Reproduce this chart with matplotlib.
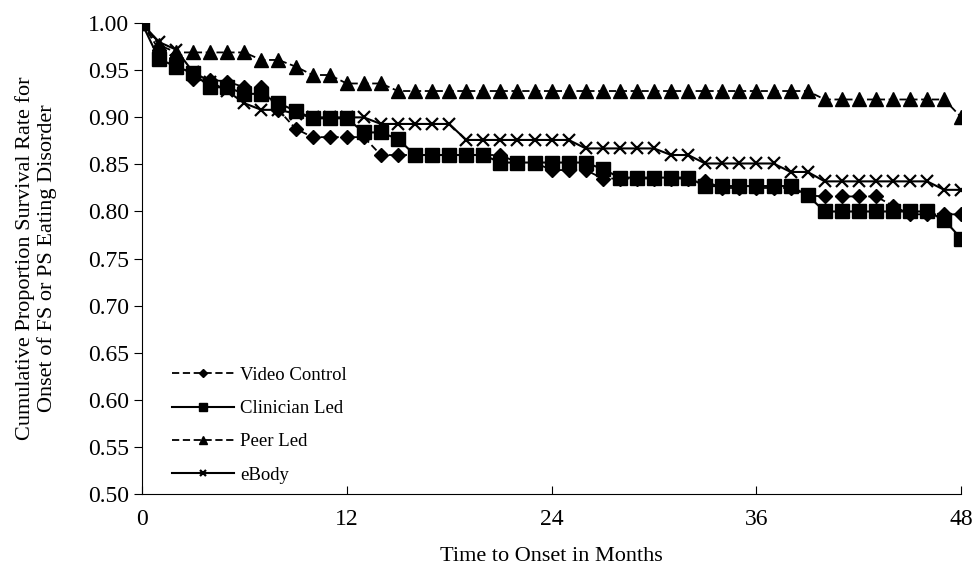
import matplotlib
matplotlib.use('Agg')
import matplotlib.pyplot as plt

plt.rcParams['font.family'] = ['Liberation Serif', 'DejaVu Serif']

months = list(range(0, 49))

video = [1.000, 0.972, 0.963, 0.941, 0.940, 0.938, 0.932, 0.932, 0.908, 0.888,
         0.879, 0.879, 0.879, 0.879, 0.860, 0.860, 0.860, 0.860, 0.860, 0.860,
         0.860, 0.860, 0.852, 0.852, 0.844, 0.844, 0.844, 0.835, 0.835, 0.835,
         0.835, 0.835, 0.835, 0.832, 0.825, 0.825, 0.825, 0.825, 0.825, 0.817,
         0.816, 0.816, 0.816, 0.816, 0.806, 0.797, 0.797, 0.797, 0.797]

clinician = [1.000, 0.962, 0.954, 0.947, 0.932, 0.932, 0.925, 0.925, 0.915, 0.907,
             0.899, 0.899, 0.899, 0.884, 0.884, 0.877, 0.860, 0.860, 0.860, 0.860,
             0.860, 0.852, 0.852, 0.852, 0.852, 0.852, 0.852, 0.845, 0.836, 0.836,
             0.836, 0.836, 0.836, 0.827, 0.827, 0.827, 0.827, 0.827, 0.827, 0.817,
             0.800, 0.800, 0.800, 0.800, 0.800, 0.800, 0.800, 0.791, 0.771]

peer = [1.000, 0.977, 0.969, 0.969, 0.969, 0.969, 0.969, 0.961, 0.961, 0.954,
        0.945, 0.945, 0.936, 0.936, 0.936, 0.928, 0.928, 0.928, 0.928, 0.928,
        0.928, 0.928, 0.928, 0.928, 0.928, 0.928, 0.928, 0.928, 0.928, 0.928,
        0.928, 0.928, 0.928, 0.928, 0.928, 0.928, 0.928, 0.928, 0.928, 0.928,
        0.919, 0.919, 0.919, 0.919, 0.919, 0.919, 0.919, 0.919, 0.900]

ebody = [1.000, 0.980, 0.972, 0.948, 0.938, 0.928, 0.915, 0.908, 0.908, 0.904,
         0.900, 0.900, 0.900, 0.900, 0.893, 0.893, 0.893, 0.893, 0.893, 0.876,
         0.876, 0.876, 0.876, 0.876, 0.876, 0.876, 0.867, 0.867, 0.867, 0.867,
         0.867, 0.860, 0.860, 0.851, 0.851, 0.851, 0.851, 0.851, 0.842, 0.842,
         0.832, 0.832, 0.832, 0.832, 0.832, 0.832, 0.832, 0.823, 0.823]

xticks = [0, 12, 24, 36, 48]
yticks = [0.50, 0.55, 0.60, 0.65, 0.70, 0.75, 0.80, 0.85, 0.90, 0.95, 1.00]

fig = plt.figure(figsize=(9.72, 5.67), dpi=100)
ax = fig.add_axes([0.146, 0.129, 0.843, 0.830])

dash = (0, (4, 2))
ax.plot(months, video, color='black', linestyle=dash, linewidth=1.3,
        marker='D', markersize=7, label='Video Control')
ax.plot(months, clinician, color='black', linestyle='-', linewidth=1.5,
        marker='s', markersize=9.5, label='Clinician Led')
ax.plot(months, peer, color='black', linestyle=dash, linewidth=1.3,
        marker='^', markersize=9.5, label='Peer Led')
ax.plot(months, ebody, color='black', linestyle='-', linewidth=1.5,
        marker='x', markersize=9, markeredgewidth=1.6, label='eBody')

ax.set_xlim(0, 48)
ax.set_ylim(0.5, 1.0)
ax.set_xticks(xticks)
ax.set_yticks(yticks)
ax.set_yticklabels(['%.2f' % t for t in yticks])
ax.tick_params(axis='x', direction='in', length=6, labelsize=17, pad=11)
ax.tick_params(axis='y', direction='out', length=6, labelsize=17)
ax.spines['top'].set_visible(False)
ax.spines['right'].set_visible(False)
ax.set_xlabel('Time to Onset in Months', fontsize=16, labelpad=12)
ax.set_ylabel('Cumulative Proportion Survival Rate for\nOnset of FS or PS Eating Disorder',
              fontsize=16, labelpad=22, linespacing=1.15)

ax.legend(loc='lower left', bbox_to_anchor=(0.016, -0.014), frameon=False,
          fontsize=13.5, markerscale=0.55, handlelength=3.3, labelspacing=0.86,
          handletextpad=0.35)

fig.savefig('out.png', dpi=100)
